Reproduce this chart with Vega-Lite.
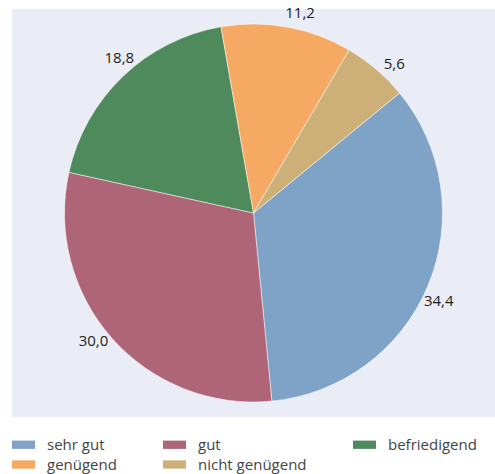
{
  "$schema": "https://vega.github.io/schema/vega-lite/v6.json",
  "width": 483,
  "height": 408,
  "padding": {"left": 12, "top": 9, "right": 0, "bottom": 57},
  "autosize": {"type": "none"},
  "background": "#ffffff",
  "data": {
    "values": [
      {"nr": 1, "note": "sehr gut", "anteil": 34.4},
      {"nr": 2, "note": "gut", "anteil": 30.0},
      {"nr": 3, "note": "befriedigend", "anteil": 18.8},
      {"nr": 4, "note": "genügend", "anteil": 11.2},
      {"nr": 5, "note": "nicht genügend", "anteil": 5.6}
    ]
  },
  "layer": [
    {
      "data": {"values": [{"bg": 1}]},
      "mark": {"type": "rect", "color": "#eaedf6"},
      "encoding": {}
    },
    {
      "mark": {"type": "arc", "outerRadius": 189, "stroke": "#ffffff", "strokeWidth": 0.5},
      "encoding": {
        "theta": {"field": "anteil", "type": "quantitative", "stack": true, "scale": {"range": [0.883, 7.166]}},
        "order": {"field": "nr", "type": "quantitative"},
        "color": {
          "field": "note",
          "type": "nominal",
          "scale": {
            "domain": ["sehr gut", "gut", "befriedigend", "genügend", "nicht genügend"],
            "range": ["#7fa3c7", "#ae6577", "#4f8a5d", "#f5a963", "#cdb077"]
          },
          "legend": {
            "orient": "bottom",
            "direction": "horizontal",
            "columns": 3,
            "title": null,
            "offset": 16,
            "padding": 0,
            "symbolType": "M-1,-0.36L1,-0.36L1,0.36L-1,0.36Z",
            "symbolSize": 529,
            "symbolStrokeWidth": 0,
            "symbolOpacity": 1,
            "labelFont": "Open Sans",
            "labelFontSize": 15,
            "labelColor": "#444444",
            "labelOffset": 12,
            "columnPadding": 46,
            "rowPadding": 0,
            "labelLimit": 300
          }
        }
      }
    },
    {
      "mark": {"type": "text", "radius": 205, "thetaOffset": 0.05, "font": "Open Sans", "fontSize": 15, "fontWeight": 500, "color": "#222222"},
      "encoding": {
        "theta": {"field": "anteil", "type": "quantitative", "stack": true, "scale": {"range": [0.883, 7.166]}},
        "order": {"field": "nr", "type": "quantitative"},
        "text": {"field": "anteil", "type": "quantitative", "format": ".1f"}
      }
    }
  ],
  "config": {
    "view": {"stroke": null},
    "locale": {"number": {"decimal": ",", "thousands": ".", "grouping": [3], "currency": ["", " €"]}}
  }
}
